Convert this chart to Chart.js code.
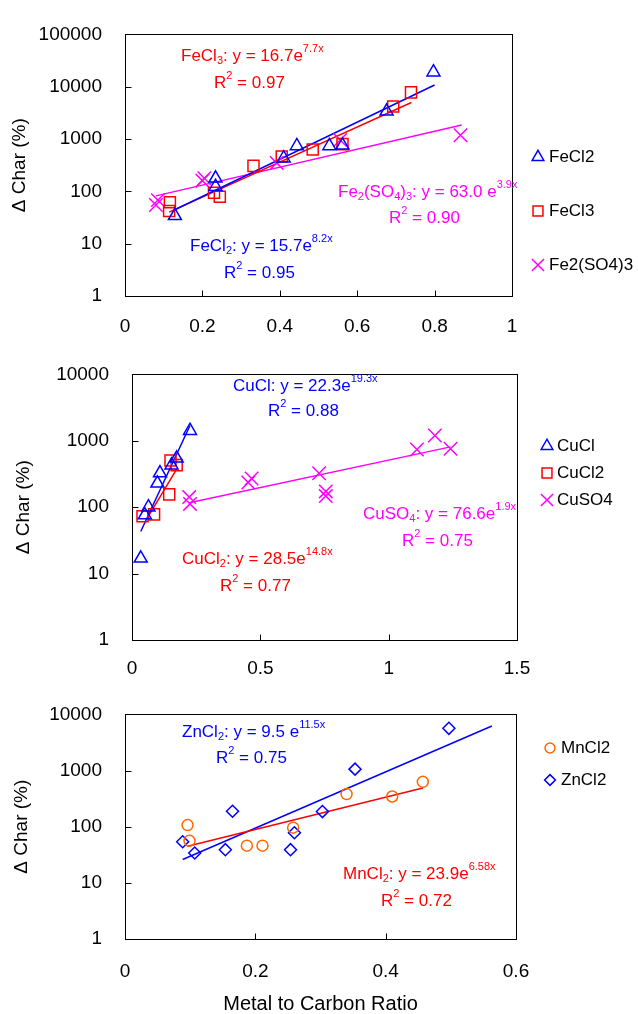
<!DOCTYPE html>
<html>
<head>
<meta charset="utf-8">
<script src="https://cdn.jsdelivr.net/npm/chart.js@4.4.1/dist/chart.umd.min.js"></script>
<style>
  html, body { margin: 0; padding: 0; background: #fff; }
  canvas { position: absolute; left: 0; }
</style>
</head>
<body>
<canvas id="feChart" width="638" height="340" style="top:0px"></canvas>
<canvas id="cuChart" width="638" height="340" style="top:340px"></canvas>
<canvas id="znChart" width="638" height="334" style="top:680px"></canvas>
<script>
// ---- data ----
const feTicksX = [0, 0.2, 0.4, 0.6, 0.8, 1];
const feTicksY = [1, 10, 100, 1000, 10000, 100000];
const fecl2X = [0.129, 0.234, 0.234, 0.41, 0.444, 0.528, 0.562, 0.676, 0.797];
const fecl2Y = [34, 178, 123, 430, 740, 740, 760, 3380, 19000];
const fecl3X = [0.114, 0.116, 0.23, 0.245, 0.332, 0.405, 0.485, 0.562, 0.693, 0.739];
const fecl3Y = [42, 62, 94, 79, 307, 465, 630, 800, 4200, 7800];
const fe2so43X = [0.08, 0.085, 0.2, 0.205, 0.392, 0.556, 0.867];
const fe2so43Y = [55, 68, 160, 178, 350, 960, 1180];
const fecl2TrendX = [0.13, 0.8];
const fecl2TrendY = [45, 10800];
const fecl3TrendX = [0.114, 0.74];
const fecl3TrendY = [40, 5000];
const fe2so43TrendX = [0.08, 0.87];
const fe2so43TrendY = [82, 1850];

const cuTicksX = [0, 0.5, 1, 1.5];
const cuTicksY = [1, 10, 100, 1000, 10000];
const cuclX = [0.034, 0.05, 0.064, 0.099, 0.109, 0.154, 0.174, 0.226];
const cuclY = [17, 76, 100, 229, 326, 430, 545, 1420];
const cucl2X = [0.041, 0.086, 0.145, 0.15, 0.174];
const cucl2Y = [73, 78, 156, 505, 430];
const cuso4X = [0.223, 0.226, 0.453, 0.466, 0.729, 0.755, 0.755, 1.11, 1.18, 1.241];
const cuso4Y = [142, 112, 235, 270, 325, 173, 147, 740, 1200, 760];
const cuclTrendX = [0.034, 0.226];
const cuclTrendY = [43, 1700];
const cucl2TrendX = [0.06, 0.174];
const cucl2TrendY = [69, 375];
const cuso4TrendX = [0.223, 1.241];
const cuso4TrendY = [117, 810];

const znTicksX = [0, 0.2, 0.4, 0.6];
const znTicksY = [1, 10, 100, 1000, 10000];
const mncl2X = [0.096, 0.099, 0.187, 0.211, 0.258, 0.34, 0.41, 0.457];
const mncl2Y = [107, 56, 46, 46, 96, 381, 345, 630];
const zncl2X = [0.0885, 0.107, 0.154, 0.165, 0.254, 0.26, 0.303, 0.353, 0.497];
const zncl2Y = [54, 34, 39, 188, 39, 78, 186, 1060, 5650];
const mncl2TrendX = [0.096, 0.457];
const mncl2TrendY = [45, 490];
const zncl2TrendX = [0.0885, 0.563];
const zncl2TrendY = [26, 6200];

// ---- helpers ----
const family = "'Liberation Sans', Arial, sans-serif";
Chart.defaults.font.family = family;
Chart.defaults.color = '#000';

const BLUE = '#0000ff', RED = '#ff0000', MAGENTA = '#ff00ff', ORANGE = '#ff6600';

const pts = (xs, ys) => xs.map((x, i) => ({ x: x, y: ys[i] }));

function scatterSet(label, xs, ys, color, style, radius) {
    return {
        label: label,
        data: pts(xs, ys),
        borderColor: color,
        backgroundColor: 'rgba(0,0,0,0)',
        pointStyle: style,
        pointRadius: radius,
        pointHoverRadius: radius,
        pointBorderWidth: 1.5,
        showLine: false,
        inLegend: true
    };
}

function trendSet(xs, ys, color) {
    return {
        data: pts(xs, ys),
        borderColor: color,
        borderWidth: 1.5,
        showLine: true,
        pointRadius: 0,
        fill: false,
        inLegend: false
    };
}

function drawMarker(ctx, style, x, y, r) {
    ctx.beginPath();
    if (style === 'triangle') {
        ctx.moveTo(x, y - r);
        ctx.lineTo(x + r * 0.866, y + r * 0.5);
        ctx.lineTo(x - r * 0.866, y + r * 0.5);
        ctx.closePath();
    } else if (style === 'rect') {
        const s = r * Math.SQRT1_2;
        ctx.rect(x - s, y - s, 2 * s, 2 * s);
    } else if (style === 'rectRot') {
        ctx.moveTo(x, y - r); ctx.lineTo(x + r, y); ctx.lineTo(x, y + r); ctx.lineTo(x - r, y);
        ctx.closePath();
    } else if (style === 'crossRot') {
        const s = r * Math.SQRT1_2;
        ctx.moveTo(x - s, y - s); ctx.lineTo(x + s, y + s);
        ctx.moveTo(x + s, y - s); ctx.lineTo(x - s, y + s);
    } else {
        ctx.arc(x, y, r, 0, Math.PI * 2);
    }
    ctx.stroke();
}

// box around the plot + short inward tick marks
const frame = {
    id: 'frame',
    beforeDatasetsDraw(chart) {
        const { ctx, chartArea: a, scales } = chart;
        const L = Math.round(a.left) + 0.5, R = Math.round(a.right) + 0.5;
        const T = Math.round(a.top) + 0.5, B = Math.round(a.bottom) + 0.5;
        ctx.save();
        ctx.strokeStyle = '#000';
        ctx.lineWidth = 1;
        ctx.strokeRect(L, T, R - L, B - T);
        ctx.beginPath();
        scales.x.ticks.forEach(t => {
            const px = Math.round(scales.x.getPixelForValue(t.value)) + 0.5;
            ctx.moveTo(px, B); ctx.lineTo(px, B - 6);
        });
        scales.y.ticks.forEach(t => {
            const py = Math.round(scales.y.getPixelForValue(t.value)) + 0.5;
            ctx.moveTo(L, py); ctx.lineTo(L + 6, py);
        });
        ctx.stroke();
        ctx.restore();
    }
};

// legend to the right of the plot
const sideLegend = {
    id: 'sideLegend',
    afterDraw(chart, args, opts) {
        const ctx = chart.ctx;
        const sets = chart.data.datasets.filter(d => d.inLegend);
        ctx.save();
        ctx.font = '17px ' + family;
        ctx.textBaseline = 'middle';
        ctx.textAlign = 'left';
        sets.forEach((d, i) => {
            const y = opts.ys[i];
            ctx.strokeStyle = d.borderColor;
            ctx.lineWidth = 1.5;
            drawMarker(ctx, d.pointStyle, opts.markerX, y, d.pointRadius * 0.9);
            ctx.fillStyle = '#000';
            ctx.fillText(d.label, opts.textX, y);
        });
        ctx.restore();
    }
};

// fit equations: '_' prefix = subscript, '^' prefix = superscript
const eqLabels = {
    id: 'eqLabels',
    afterDraw(chart, args, opts) {
        const ctx = chart.ctx;
        ctx.save();
        ctx.textBaseline = 'middle';
        ctx.textAlign = 'left';
        opts.items.forEach(it => {
            let cx = it.x;
            ctx.fillStyle = it.color;
            it.parts.forEach(p => {
                let t = p, size = 17, dy = 0;
                if (p[0] === '_') { t = p.slice(1); size = 11; dy = 5; }
                else if (p[0] === '^') { t = p.slice(1); size = 11; dy = -7; }
                ctx.font = size + 'px ' + family;
                ctx.fillText(t, cx, it.y + dy);
                cx += ctx.measureText(t).width;
            });
        });
        ctx.restore();
    }
};

function makeScales(o) {
    return {
        x: {
            type: 'linear',
            min: o.xTicks[0],
            max: o.xTicks[o.xTicks.length - 1],
            afterBuildTicks: s => { s.ticks = o.xTicks.map(v => ({ value: v })); },
            afterFit: s => { s.height = o.xH; },
            grid: { display: false, drawTicks: false },
            border: { display: false },
            ticks: { padding: o.xPad, font: { size: 19 }, autoSkip: false, maxRotation: 0, callback: v => String(v) },
            title: o.xTitle ? {
                display: true, text: o.xTitle,
                font: { size: 20, lineHeight: 1 }, padding: { top: 0, bottom: 0 }
            } : { display: false }
        },
        y: {
            type: 'logarithmic',
            min: o.yTicks[0],
            max: o.yTicks[o.yTicks.length - 1],
            afterBuildTicks: s => { s.ticks = o.yTicks.map(v => ({ value: v })); },
            afterFit: s => { s.width = o.yW; },
            grid: { display: false, drawTicks: false },
            border: { display: false },
            ticks: { padding: 23, font: { size: 19 }, autoSkip: false, callback: v => String(v) },
            title: {
                display: true, text: 'Δ Char (%)',
                font: { size: 19 }, padding: { top: o.yTitlePad, bottom: 0 }
            }
        }
    };
}

function makeChart(id, datasets, layoutPad, scaleOpts, legendOpts, eqItems) {
    return new Chart(document.getElementById(id), {
        type: 'scatter',
        data: { datasets: datasets },
        options: {
            responsive: false,
            animation: false,
            layout: { padding: layoutPad },
            scales: makeScales(scaleOpts),
            plugins: {
                legend: { display: false },
                tooltip: { enabled: false },
                sideLegend: legendOpts,
                eqLabels: { items: eqItems }
            }
        },
        plugins: [frame, sideLegend, eqLabels]
    });
}

// ---- iron salts ----
makeChart('feChart', [
    scatterSet('FeCl2', fecl2X, fecl2Y, BLUE, 'triangle', 7.5),
    scatterSet('FeCl3', fecl3X, fecl3Y, RED, 'rect', 7.8),
    scatterSet('Fe2(SO4)3', fe2so43X, fe2so43Y, MAGENTA, 'crossRot', 9.5),
    trendSet(fecl2TrendX, fecl2TrendY, BLUE),
    trendSet(fecl3TrendX, fecl3TrendY, RED),
    trendSet(fe2so43TrendX, fe2so43TrendY, MAGENTA)
], { left: 0, top: 23, right: 126, bottom: 0 },
{ xTicks: feTicksX, yTicks: feTicksY, xH: 44, yW: 125, xPad: 19, yTitlePad: 8 },
{ markerX: 538, textX: 549, ys: [157, 211, 265] },
[
    { x: 181, y: 56, color: RED, parts: ['FeCl', '_3', ': y = 16.7e', '^7.7x'] },
    { x: 214, y: 83, color: RED, parts: ['R', '^2', ' = 0.97'] },
    { x: 338, y: 192, color: MAGENTA, parts: ['Fe', '_2', '(SO', '_4', ')', '_3', ': y = 63.0 e', '^3.9x'] },
    { x: 389, y: 218, color: MAGENTA, parts: ['R', '^2', ' = 0.90'] },
    { x: 190, y: 246, color: BLUE, parts: ['FeCl', '_2', ': y = 15.7e', '^8.2x'] },
    { x: 224, y: 273, color: BLUE, parts: ['R', '^2', ' = 0.95'] }
]);

// ---- copper salts ----
makeChart('cuChart', [
    scatterSet('CuCl', cuclX, cuclY, BLUE, 'triangle', 7.5),
    scatterSet('CuCl2', cucl2X, cucl2Y, RED, 'rect', 7.8),
    scatterSet('CuSO4', cuso4X, cuso4Y, MAGENTA, 'crossRot', 9.5),
    trendSet(cuclTrendX, cuclTrendY, BLUE),
    trendSet(cucl2TrendX, cucl2TrendY, RED),
    trendSet(cuso4TrendX, cuso4TrendY, MAGENTA)
], { left: 0, top: 23, right: 121, bottom: 0 },
{ xTicks: cuTicksX, yTicks: cuTicksY, xH: 40, yW: 132, xPad: 17, yTitlePad: 12 },
{ markerX: 547, textX: 557, ys: [106, 133, 160] },
[
    { x: 233, y: 46, color: BLUE, parts: ['CuCl: y = 22.3e', '^19.3x'] },
    { x: 268, y: 71, color: BLUE, parts: ['R', '^2', ' = 0.88'] },
    { x: 363, y: 174, color: MAGENTA, parts: ['CuSO', '_4', ': y = 76.6e', '^1.9x'] },
    { x: 402, y: 201, color: MAGENTA, parts: ['R', '^2', ' = 0.75'] },
    { x: 182, y: 219, color: RED, parts: ['CuCl', '_2', ': y = 28.5e', '^14.8x'] },
    { x: 220, y: 246, color: RED, parts: ['R', '^2', ' = 0.77'] }
]);

// ---- manganese / zinc ----
makeChart('znChart', [
    scatterSet('MnCl2', mncl2X, mncl2Y, ORANGE, 'circle', 5.5),
    scatterSet('ZnCl2', zncl2X, zncl2Y, BLUE, 'rectRot', 6),
    trendSet(mncl2TrendX, mncl2TrendY, RED),
    trendSet(zncl2TrendX, zncl2TrendY, BLUE)
], { left: 0, top: 24, right: 122, bottom: 0 },
{ xTicks: znTicksX, yTicks: znTicksY, xH: 75, yW: 125, xPad: 21, yTitlePad: 10, xTitle: 'Metal to Carbon Ratio' },
{ markerX: 550, textX: 561, ys: [68, 100] },
[
    { x: 182, y: 52, color: BLUE, parts: ['ZnCl', '_2', ': y = 9.5 e', '^11.5x'] },
    { x: 216, y: 78, color: BLUE, parts: ['R', '^2', ' = 0.75'] },
    { x: 343, y: 194, color: RED, parts: ['MnCl', '_2', ': y = 23.9e', '^6.58x'] },
    { x: 381, y: 221, color: RED, parts: ['R', '^2', ' = 0.72'] }
]);
</script>
</body>
</html>
